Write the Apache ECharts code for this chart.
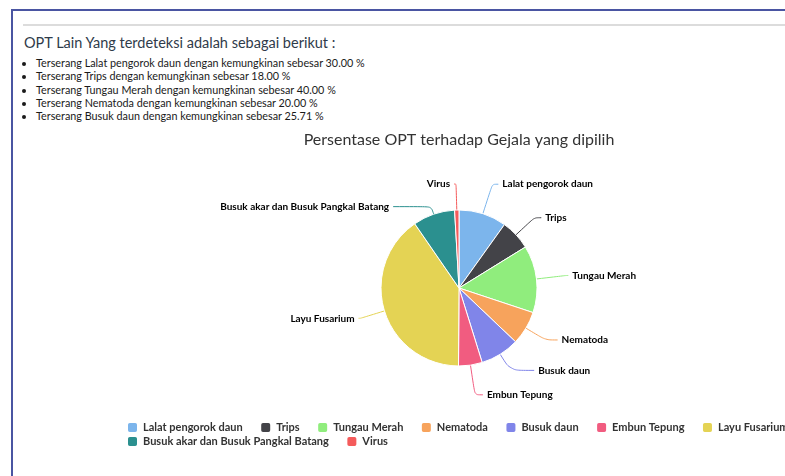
<!DOCTYPE html>
<html>
<head>
<meta charset="utf-8">
<script src="https://cdn.jsdelivr.net/npm/echarts@6/dist/echarts.min.js"></script>
<style>
  html, body { margin: 0; padding: 0; background: #fff; overflow: hidden; width: 785px; height: 476px; }
  .edge-top { position: absolute; left: 11px; top: 9px; width: 774px; height: 2px; background: #4a55a2; }
  .edge-left { position: absolute; left: 11px; top: 9px; width: 2px; height: 467px; background: #4a55a2; }
  .rule { position: absolute; left: 23px; top: 24px; width: 762px; height: 2px; background: #dcdcdc; }
  h3 {
    position: absolute; left: 24px; top: 34px; margin: 0;
    font: 14.5px Lato, sans-serif; color: #2f3b4a;
  }
  ul {
    position: absolute; left: 24px; top: 56px; margin: 0; padding: 0 0 0 12px;
    font: 10.8px Lato, sans-serif; color: #1a1a1a; line-height: 13.3px;
  }
  #wrap { position: absolute; left: 0; top: 0; width: 785px; height: 476px; overflow: hidden; }
  #chart { position: absolute; left: 0; top: 0; width: 918px; height: 476px; }
</style>
</head>
<body>
<div class="edge-top"></div>
<div class="edge-left"></div>
<div class="rule"></div>
<h3>OPT Lain Yang terdeteksi adalah sebagai berikut :</h3>
<ul>
  <li>Terserang Lalat pengorok daun dengan kemungkinan sebesar 30.00 %</li>
  <li>Terserang Trips dengan kemungkinan sebesar 18.00 %</li>
  <li>Terserang Tungau Merah dengan kemungkinan sebesar 40.00 %</li>
  <li>Terserang Nematoda dengan kemungkinan sebesar 20.00 %</li>
  <li>Terserang Busuk daun dengan kemungkinan sebesar 25.71 %</li>
</ul>
<div id="wrap"><div id="chart"></div></div>
<script>
// kategori OPT dan persentase
const categories = ['Lalat pengorok daun', 'Trips', 'Tungau Merah', 'Nematoda', 'Busuk daun',
  'Embun Tepung', 'Layu Fusarium', 'Busuk akar dan Busuk Pangkal Batang', 'Virus'];
const percentages = [9.9, 6.3, 13.9, 7.0, 8.1, 4.9, 40.3, 8.7, 0.9];
const colors = ['#7cb5ec', '#434348', '#90ed7d', '#f7a35c', '#8085e9',
  '#f15c80', '#e4d354', '#2b908f', '#f45b5b'];

// panjang garis label per irisan [length, length2]
const labelLines = {
  'Lalat pengorok daun': [31, 6],
  'Trips': [25, 7],
  'Tungau Merah': [30, 2],
  'Nematoda': [23, 12],
  'Busuk daun': [19, 24],
  'Embun Tepung': [30, 8],
  'Layu Fusarium': [25, 2],
  'Busuk akar dan Busuk Pangkal Batang': [8, 38],
  'Virus': [26, 2]
};

const chart = echarts.init(document.getElementById('chart'));

const legendBase = {
  left: 126,
  padding: 0,
  itemWidth: 11,
  itemHeight: 11,
  itemGap: 16.5,
  icon: 'roundRect',
  textStyle: { fontFamily: 'Lato', fontSize: 11, fontWeight: 'bold', color: '#333' }
};

const option = {
  color: colors,
  title: {
    text: 'Persentase OPT terhadap Gejala yang dipilih',
    left: 'center',
    top: 127,
    textStyle: { fontFamily: 'Lato', fontSize: 16, fontWeight: 'normal', color: '#333' }
  },
  legend: [
    Object.assign({ top: 421, data: categories.slice(0, 7) }, legendBase),
    Object.assign({ top: 435, data: categories.slice(7) }, legendBase)
  ],
  series: [
    {
      type: 'pie',
      center: [459, 288],
      radius: 78,
      startAngle: 90,
      clockwise: true,
      avoidLabelOverlap: false,
      itemStyle: { borderColor: '#fff', borderWidth: 1 },
      label: {
        color: '#000',
        fontFamily: 'Lato',
        fontSize: 10,
        fontWeight: 'bold',
        distanceToLabelLine: 4
      },
      labelLine: { length: 26, length2: 10, smooth: 0.3, lineStyle: { width: 1 } },
      emphasis: { disabled: true },
      data: categories.map((name, i) => ({
        name,
        value: percentages[i],
        labelLine: {
          length: labelLines[name][0],
          length2: labelLines[name][1],
          lineStyle: { color: colors[i] }
        }
      }))
    }
  ]
};

chart.setOption(option);
</script>
</body>
</html>
